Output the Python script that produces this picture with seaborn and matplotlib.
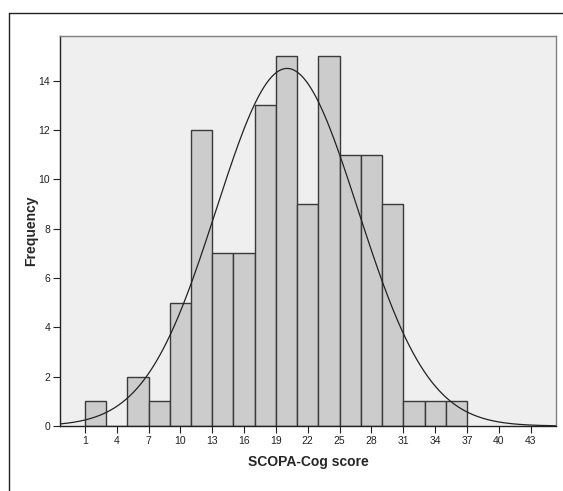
import numpy as np
import pandas as pd
import matplotlib
matplotlib.use("Agg")
import matplotlib.pyplot as plt
import seaborn as sns
from matplotlib.lines import Line2D

# Data
bin_left = [1, 3, 5, 7, 9, 11, 13, 15, 17, 19, 21, 23, 25, 27, 29, 31, 33, 35]
counts = [1, 0, 2, 1, 5, 12, 7, 7, 13, 15, 9, 15, 11, 11, 9, 1, 1, 1]
bin_width = 2
x_ticks = [1, 4, 7, 10, 13, 16, 19, 22, 25, 28, 31, 34, 37, 40, 43]
y_ticks = [0, 2, 4, 6, 8, 10, 12, 14]
fit_mean = 20.05
fit_sd = 6.66

sns.set_theme(style="white")
plt.rcParams['font.family'] = ['Liberation Sans', 'DejaVu Sans']

df = pd.DataFrame({"score": [b + bin_width / 2 for b in bin_left], "n": counts})
edges = bin_left + [bin_left[-1] + bin_width]

fig = plt.figure(figsize=(5.63, 4.91), dpi=100)
ax = fig.add_axes([60 / 563, 65 / 491, 496 / 563, 390 / 491])
ax.set_facecolor("#efefef")

sns.histplot(data=df, x="score", weights="n", bins=edges, ax=ax,
             color="#cccccc", alpha=1, edgecolor="#3a3a3a", linewidth=1.0)

n_total = sum(counts)
xs = np.linspace(-1.34, 45.38, 400)
ys = n_total * bin_width / (fit_sd * np.sqrt(2 * np.pi)) * np.exp(-0.5 * ((xs - fit_mean) / fit_sd) ** 2)
sns.lineplot(x=xs, y=ys, ax=ax, color="#222222", linewidth=0.9)

ax.set_xlim(-1.34, 45.38)
ax.set_ylim(0, 15.81)
ax.set_xticks(x_ticks)
ax.set_yticks(y_ticks)
ax.tick_params(axis="both", direction="out", length=5, width=0.8, color="#222222",
               labelsize=7.5, pad=2, bottom=True, left=True)
for lab in ax.get_xticklabels() + ax.get_yticklabels():
    lab.set_color("#222222")
ax.set_xlabel("SCOPA-Cog score", fontsize=10, fontweight="bold", labelpad=7)
ax.set_ylabel("Frequency", fontsize=10, fontweight="bold", labelpad=0)
for side in ["top", "right"]:
    ax.spines[side].set_color("#808080")
    ax.spines[side].set_linewidth(1.0)
for side in ["left", "bottom"]:
    ax.spines[side].set_color("#222222")
    ax.spines[side].set_linewidth(1.0)

# Outer frame (cropped on right and bottom)
fx = 8.5 / 563
fy = 1 - 13 / 491
fig.add_artist(Line2D([fx, fx], [0, fy], transform=fig.transFigure, color="#222222", linewidth=1.0))
fig.add_artist(Line2D([fx, 1], [fy, fy], transform=fig.transFigure, color="#222222", linewidth=1.0))

fig.savefig("out.png", dpi=100)
